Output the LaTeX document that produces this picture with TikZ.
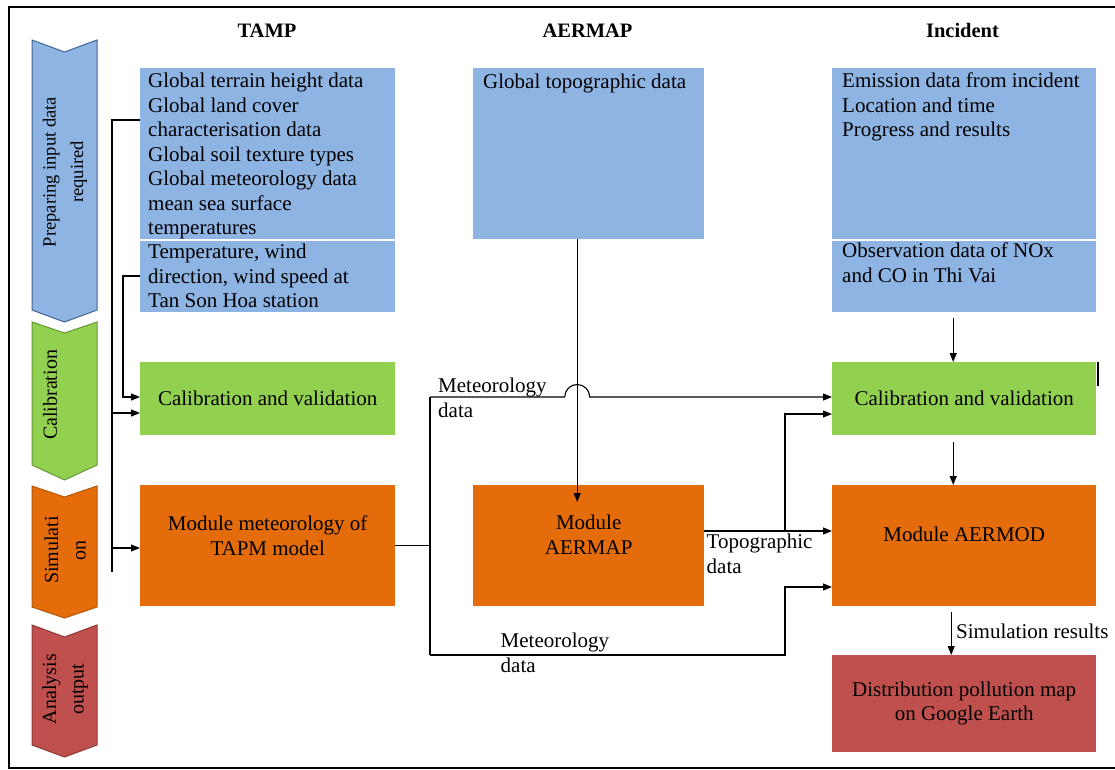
\documentclass[tikz,border=0pt]{standalone}
\usepackage{fontspec}
\setmainfont{Liberation Serif}
\usetikzlibrary{arrows.meta}
\definecolor{inblue}{RGB}{142,180,227}
\definecolor{calgreen}{RGB}{146,208,80}
\definecolor{simorange}{RGB}{228,108,10}
\definecolor{outred}{RGB}{192,80,77}
\definecolor{blueline}{RGB}{65,100,145}
\definecolor{greenline}{RGB}{100,150,50}
\definecolor{orangeline}{RGB}{182,87,8}
\definecolor{redline}{RGB}{140,56,54}
\begin{document}
\begin{tikzpicture}[x=1pt, y=-1pt,
  box/.style={rectangle, inner sep=0pt, anchor=north west},
  txt/.style={inner sep=0pt, font=\fontsize{21}{24.5}\selectfont},
  side/.style={inner sep=0pt, rotate=90, align=center, font=\fontsize{20}{27.5}\selectfont},
  head/.style={inner sep=0pt, anchor=base, font=\fontsize{20.5}{24}\selectfont\bfseries},
  wire/.style={black, line width=1.1pt},
  arr/.style={wire, -{Triangle[length=9pt, width=7pt]}}]
\useasboundingbox (0,0) rectangle (1115,770);
\draw[black, line width=1.3pt] (1115,7) -- (9,7) -- (9,768) -- (1115,768);

\filldraw[fill=inblue, draw=blueline, line width=1pt] (32,40) -- (64.5,52) -- (97,40) -- (97,310) -- (64.5,322) -- (32,310) -- cycle;
\filldraw[fill=calgreen, draw=greenline, line width=1pt] (32,322) -- (64.5,333) -- (97,322) -- (97,465) -- (64.5,480) -- (32,465) -- cycle;
\filldraw[fill=simorange, draw=orangeline, line width=1pt] (32,486) -- (64.5,497) -- (97,486) -- (97,607) -- (64.5,618) -- (32,607) -- cycle;
\filldraw[fill=outred, draw=redline, line width=1pt] (32,625) -- (64.5,637) -- (97,625) -- (97,745) -- (64.5,757) -- (32,745) -- cycle;
\node[side, font=\fontsize{18.5}{27.5}\selectfont] (prepLab) at (65,172) {Preparing input data\\required};
\node[side] (calLab) at (50,395) {Calibration};
\node[side] (simLab) at (65,550) {Simulati\\on};
\node[side] (anaLab) at (65,689) {Analysis\\output};

\node[head] (tampHead) at (267,38) {TAMP};
\node[head] (aerHead) at (587.5,38) {AERMAP};
\node[head] (incHead) at (962.5,38) {Incident};

\node[box, fill=inblue, minimum width=255pt, minimum height=171pt] (tampIn) at (140,68) {};
\node[box, fill=inblue, minimum width=255pt, minimum height=71pt] (tampObs) at (140,241) {};
\node[box, fill=calgreen, minimum width=255pt, minimum height=73pt] (tampCal) at (140,362) {};
\node[box, fill=simorange, minimum width=255pt, minimum height=121pt] (tampMet) at (140,485) {};
\node[box, fill=inblue, minimum width=231pt, minimum height=171pt] (aerIn) at (473,68) {};
\node[box, fill=simorange, minimum width=231pt, minimum height=121pt] (aerMap) at (473,485) {};
\node[box, fill=inblue, minimum width=264pt, minimum height=171pt] (incIn) at (832,68) {};
\node[box, fill=inblue, minimum width=264pt, minimum height=71pt] (incObs) at (832,241) {};
\node[box, fill=calgreen, minimum width=264pt, minimum height=73pt] (incCal) at (832,362) {};
\node[box, fill=simorange, minimum width=264pt, minimum height=121pt] (incMod) at (832,485) {};
\node[box, fill=outred, minimum width=264pt, minimum height=97pt] (incMap) at (832,655) {};

\node[txt, align=left, anchor=north west] (tampInTxt) at ([xshift=8pt, yshift=-5pt]tampIn.north west) {Global terrain height data\\Global land cover\\characterisation data\\Global soil texture types\\Global meteorology data\\mean sea surface\\temperatures};
\node[txt, align=left, anchor=north west] (tampObsTxt) at ([xshift=8pt, yshift=-3pt]tampObs.north west) {Temperature, wind\\direction, wind speed at\\Tan Son Hoa station};
\node[txt] (tampCalTxt) at (tampCal.center) {Calibration and validation};
\node[txt, align=center] (tampMetTxt) at ([yshift=10pt]tampMet.center) {Module meteorology of\\TAPM model};
\node[txt, align=left, anchor=north west] (aerInTxt) at ([xshift=10pt, yshift=-6pt]aerIn.north west) {Global topographic data};
\node[txt, align=center] (aerMapTxt) at ([yshift=11pt]aerMap.center) {Module\\AERMAP};
\node[txt, align=left, anchor=north west] (incInTxt) at ([xshift=10pt, yshift=-5pt]incIn.north west) {Emission data from incident\\Location and time\\Progress and results};
\node[txt, align=left, anchor=north west] (incObsTxt) at ([xshift=10pt, yshift=-2pt]incObs.north west) {Observation data of NOx\\and CO in Thi Vai};
\node[txt] (incCalTxt) at (incCal.center) {Calibration and validation};
\node[txt] (incModTxt) at ([yshift=11pt]incMod.center) {Module AERMOD};
\node[txt, align=center] (incMapTxt) at (incMap.center) {Distribution pollution map\\on Google Earth};

\coordinate (busTop) at (112,120);
\coordinate (busCal) at (112,413);
\coordinate (busMet) at (112,548);
\coordinate (busBot) at (112,572);
\draw[wire] (busTop -| tampIn.west) -- (busTop) -- (busBot);
\draw[arr] (busCal) -- (busCal -| tampCal.west);
\draw[arr] (busMet) -- (busMet -| tampMet.west);
\coordinate (obsKnee) at (123,276);
\coordinate (obsCal) at (123,397);
\draw[arr] (obsKnee -| tampObs.west) -- (obsKnee) -- (obsCal) -- (obsCal -| tampCal.west);

\draw[arr] ([xshift=-11.5pt]aerIn.south) -- ([xshift=-11.5pt, yshift=-17pt]aerMap.north);

\coordinate (metTop) at (430,397);
\coordinate (metBot) at (430,655);
\coordinate (metUp) at (785,587);
\coordinate (hop) at ([xshift=-11.5pt]aerIn.south |- metTop);
\draw[wire] (tampMet.east) -- (tampMet.east -| metTop);
\draw[wire] (metTop) -- (metBot);
\draw[arr] (metTop) -- ([xshift=-12.5pt]hop) arc[start angle=180, end angle=0, radius=12.5pt] -- (metTop -| incCal.west);
\draw[arr] (metBot) -| (metUp) -- (metUp -| incMod.west);
\coordinate (topoKnee) at (785,531);
\coordinate (topoCal) at (785,414);
\draw[arr] (aerMap.east |- topoKnee) -- (topoKnee -| incMod.west);
\draw[arr] (topoKnee) -- (topoCal) -- (topoCal -| incCal.west);

\draw[arr, shorten <=6pt] ([xshift=-11pt]incObs.south) -- ([xshift=-11pt]incCal.north);
\draw[arr, shorten <=7pt] ([xshift=-11pt]incCal.south) -- ([xshift=-11pt]incMod.north);
\draw[arr, shorten <=6pt] ([xshift=-13pt]incMod.south) -- ([xshift=-13pt]incMap.north);
\draw[black, line width=2pt] ([xshift=2pt]incCal.north east) -- ([xshift=2pt, yshift=-24pt]incCal.north east);

\node[txt, align=left, anchor=north west] (metTopLab) at (438,378) {Meteorology\\data};
\node[txt, align=left, anchor=north west] (metBotLab) at (500.5,633) {Meteorology\\data};
\node[txt, align=left, anchor=north west] (topoLab) at (706.5,534) {Topographic\\data};
\node[txt, anchor=north west] (simResLab) at (956,624) {Simulation results};
\end{tikzpicture}
\end{document}
